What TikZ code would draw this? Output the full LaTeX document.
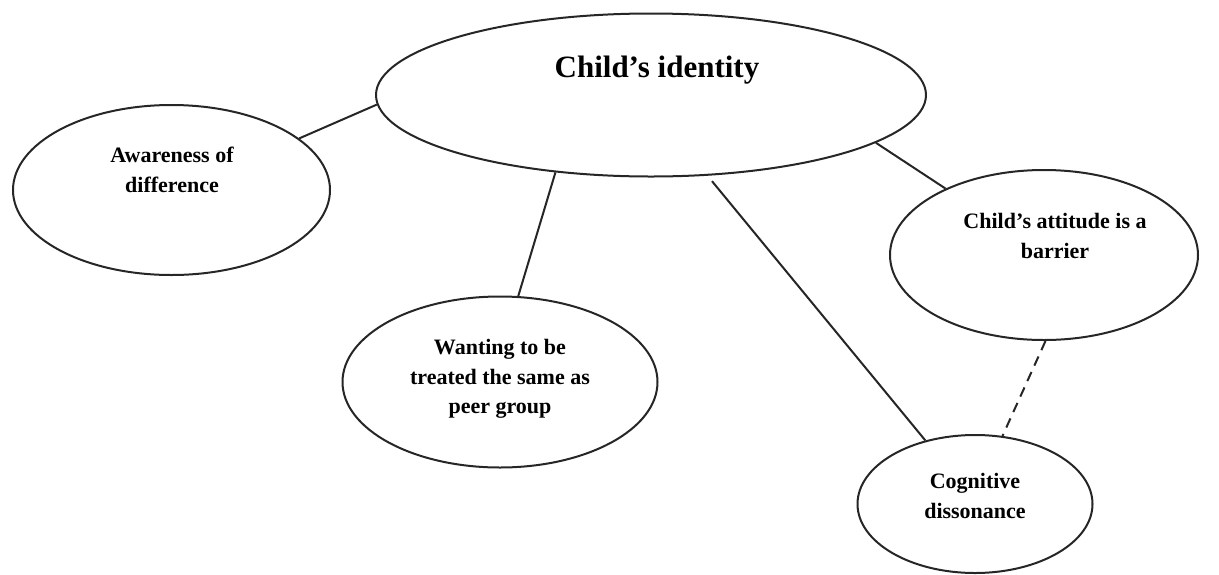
\documentclass[tikz,border=0pt]{standalone}
\usepackage{fontspec}
\setmainfont{Liberation Serif}
\usetikzlibrary{shapes.geometric}
\begin{document}
\begin{tikzpicture}[x=1pt,y=-1pt,
  bubble/.style={draw=black!85, line width=2pt, ellipse, inner sep=0pt},
  caption/.style={font=\fontsize{22}{29.5}\selectfont\bfseries, align=center, inner sep=0pt},
  link/.style={draw=black!85, line width=2pt},
  weaklink/.style={link, dash pattern=on 10pt off 7pt}]
\useasboundingbox (0,0) rectangle (1219,574);

% ellipses
\node[bubble, minimum width=550pt, minimum height=163pt] (id) at (651,95) {};
\node[bubble, minimum width=317pt, minimum height=170pt] (aw) at (171.5,190) {};
\node[bubble, minimum width=315pt, minimum height=171pt] (wa) at (500,382) {};
\node[bubble, minimum width=308pt, minimum height=170pt] (at) at (1044,255) {};
\node[bubble, minimum width=235pt, minimum height=138pt] (cd) at (975,504) {};

% texts
\node[caption, font=\fontsize{31}{36}\selectfont\bfseries] (idt) at (657,70) {Child’s identity};
\node[caption] (awt) at (172,170) {Awareness of\\difference};
\node[caption] (wat) at (500,379) {Wanting to be\\treated the same as\\peer group};
\node[caption] (att) at (1055,236) {Child’s attitude is a\\barrier};
\node[caption] (cdt) at (975,496) {Cognitive\\dissonance};

% connectors
\draw[link] (id.182.5) -- (aw.22.5);
\draw[link] (id.219.6) -- (wa.78.7);
\draw[link, shorten <=7pt] (id.305) -- (cd.128);
\draw[link] (id.348.9) -- (at.146.2);
\draw[weaklink] (at.271) -- (cd.68);
\end{tikzpicture}
\end{document}
